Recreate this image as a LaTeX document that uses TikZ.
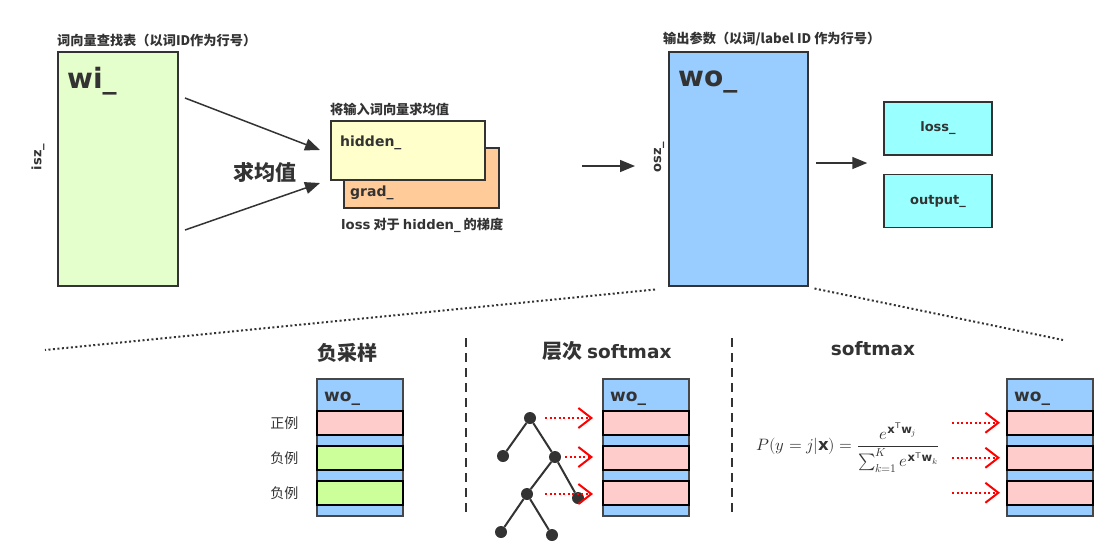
\documentclass[tikz,border=0pt]{standalone}
\usepackage{fontspec}
\usepackage{unicode-math}
\setmainfont{DejaVu Sans}
\setmathfont{Latin Modern Math}
\newfontfamily\cjk{Noto Sans CJK SC}
\usetikzlibrary{positioning, arrows.meta}
\definecolor{ink}{HTML}{333333}
\definecolor{wigreen}{HTML}{E5FFCC}
\definecolor{hidyellow}{HTML}{FFFFCC}
\definecolor{gradorange}{HTML}{FFCC99}
\definecolor{woblue}{HTML}{99CCFF}
\definecolor{lossblue}{HTML}{99FFFF}
\definecolor{rowpink}{HTML}{FFCCCC}
\definecolor{rowgreen}{HTML}{CCFF99}

\begin{document}
\begin{tikzpicture}[x=1pt, y=-1pt,
    box/.style={draw=ink, line width=1.5pt, inner sep=0pt},
    row/.style={draw=black, line width=1.5pt, inner sep=0pt, minimum width=86pt, minimum height=24pt, anchor=north west},
    lab/.style={text=ink, inner sep=0pt, font=\bfseries\fontsize{13}{13}\selectfont},
    big/.style={text=ink, inner sep=0pt, font=\bfseries\fontsize{28}{28}\selectfont},
    headtext/.style={text=ink, inner sep=0pt, font=\cjk\bfseries\fontsize{13.2}{14}\selectfont},
    flow/.style={draw=ink, line width=1.5pt, -{Triangle[length=15pt, width=12pt]}},
    leaf/.style={circle, fill=ink, minimum size=12pt, inner sep=0pt},
    redarrow/.style={red, line width=2pt, dash pattern=on 2pt off 2.5pt, -{Straight Barb[length=13pt, width=20pt, line width=2pt]}},
    zoomline/.style={draw=ink, line width=2pt, dash pattern=on 2pt off 2.5pt},
    sep/.style={draw=ink, line width=1.5pt, dash pattern=on 9pt off 6pt}
  ]
  \useasboundingbox (0,0) rectangle (1109,558);

  % top: lookup, average, output parameters
  \node[box, fill=wigreen, minimum width=120pt, minimum height=234pt, anchor=north west] (wi) at (57,51) {};
  \node[big, anchor=base west] (wilab) at (67,88) {wi\_};
  \node[headtext, anchor=west] (witit) at (57,40) {词向量查找表（以词ID作为行号）};
  \node[lab, rotate=90] (isz) at (38,157) {isz\_};

  \node[box, fill=gradorange, minimum width=155pt, minimum height=60pt, anchor=north west] (grad) at (343,147) {};
  \node[box, fill=hidyellow, minimum width=154pt, minimum height=59pt, anchor=north west] (hidden) at (330,120) {};
  \node[lab, font=\bfseries\fontsize{14}{14}\selectfont, anchor=west] (hidlab) at (340,143) {hidden\_};
  \node[lab, font=\bfseries\fontsize{14}{14}\selectfont, anchor=west] (gradlab) at (350,193) {grad\_};
  \node[headtext, anchor=west] (avgtit) at (330,109) {将输入词向量求均值};
  \node[headtext, anchor=west] (gradtit) at (341,225) {{\fontspec{DejaVu Sans Bold}loss} 对于 {\fontspec{DejaVu Sans Bold}hidden\_} 的梯度};
  \node[headtext, font=\cjk\bfseries\fontsize{21}{21}\selectfont] (avg) at (265,172) {求均值};

  \coordinate (a1) at (185,98);
  \coordinate (a2) at (185,230);
  \coordinate (h1) at (320,150);
  \coordinate (h2) at (320,183);
  \draw[flow] (a1) -- (h1);
  \draw[flow] (a2) -- (h2);

  \node[box, fill=woblue, minimum width=139pt, minimum height=234pt, anchor=north west] (wo) at (668,51) {};
  \node[big, anchor=base west] (wolab) at (678,86) {wo\_};
  \node[headtext, anchor=west] (wotit) at (663,39) {输出参数（以词/label ID 作为行号）};
  \node[lab, rotate=90] (osz) at (659,157) {osz\_};

  \node[box, fill=lossblue, minimum width=108pt, minimum height=53pt] (loss) at (938,128.5) {};
  \node[box, fill=lossblue, minimum width=108pt, minimum height=53pt, below=18pt of loss] (output) {};
  \node[lab] at (loss) {loss\_};
  \node[lab] at (output) {output\_};

  \coordinate (m1) at (582,166);
  \coordinate (m2) at (816,163);
  \draw[flow] (m1) -- ([xshift=-33pt]wo.west |- m1);
  \draw[flow] (m2) -- ([xshift=-16pt]loss.west |- m2);

  % zoom into the three variants
  \coordinate (zl) at (45,350);
  \coordinate (zr) at (1063,340);
  \draw[zoomline] ([xshift=-13pt,yshift=-3pt]wo.south west) -- (zl);
  \draw[zoomline] ([xshift=6pt,yshift=-2pt]wo.south east) -- (zr);
  \draw[sep] (466,338) -- (466,515);
  \draw[sep] (732,338) -- (732,517);

  \node[headtext, font=\cjk\bfseries\fontsize{20}{20}\selectfont] (nstit) at (347,353) {负采样};
  \node[headtext, font=\cjk\bfseries\fontsize{20}{20}\selectfont] (hstit) at (607,351) {层次 {\fontspec{DejaVu Sans Bold}\fontsize{18.5}{20}\selectfont softmax}};
  \node[lab, font=\bfseries\fontsize{18.5}{20}\selectfont] (smtit) at (873,349) {softmax};

  \foreach \sx/\sn/\ca/\cb in {316/ns/rowpink/rowgreen, 602/hs/rowpink/rowpink, 1006/sm/rowpink/rowpink} {
    \node[box, draw=ink!90, fill=woblue, minimum width=86pt, minimum height=137pt, anchor=north west] (\sn) at (\sx,378) {};
    \node[lab, font=\bfseries\fontsize{17}{17}\selectfont, anchor=base west] at (\sx+8,401) {wo\_};
    \node[row, fill=\ca] (\sn1) at (\sx,410) {};
    \node[row, fill=\cb] (\sn2) at (\sx,445) {};
    \node[row, fill=\cb] (\sn3) at (\sx,480) {};
  }

  \node[text=ink, font=\cjk\fontsize{14}{14}\selectfont, left=14pt of ns1] {正例};
  \node[text=ink, font=\cjk\fontsize{14}{14}\selectfont, left=14pt of ns2] {负例};
  \node[text=ink, font=\cjk\fontsize{14}{14}\selectfont, left=14pt of ns3] {负例};

  % tree
  \node[leaf] (t1) at (530,418) {};
  \node[leaf] (t2) at (503,456) {};
  \node[leaf] (t3) at (555,457) {};
  \node[leaf] (t4) at (578,498) {};
  \node[leaf] (t5) at (527,494) {};
  \node[leaf] (t6) at (501,532) {};
  \node[leaf] (t7) at (552,535) {};
  \foreach \a/\b in {t1/t2, t1/t3, t3/t5, t3/t4, t5/t6, t5/t7}
    \draw[ink, line width=2pt] (\a) -- (\b);

  \draw[redarrow, shorten <=9pt, shorten >=9pt] (t1) -- (t1 -| hs1.west);
  \draw[redarrow, shorten <=4pt, shorten >=9pt] (t3) -- (t3 -| hs2.west);
  \draw[redarrow, shorten <=12pt, shorten >=9pt] (t5) -- (t5 -| hs3.west);

  % softmax
  \node[text=ink, font=\fontsize{16.5}{18}\selectfont] (formula) at (848,448)
    {$P(y=j|\mathbf{x}) = \dfrac{e^{\mathbf{x}^{\mathsf{T}}\mathbf{w}_j}}{\sum_{k=1}^{K} e^{\mathbf{x}^{\mathsf{T}}\mathbf{w}_k}}$};
  \foreach \i in {1,2,3} {
    \coordinate (s\i) at (952,0 |- sm\i.west);
    \draw[redarrow, shorten >=6pt] (s\i) -- (sm\i.west);
  }
\end{tikzpicture}
\end{document}
